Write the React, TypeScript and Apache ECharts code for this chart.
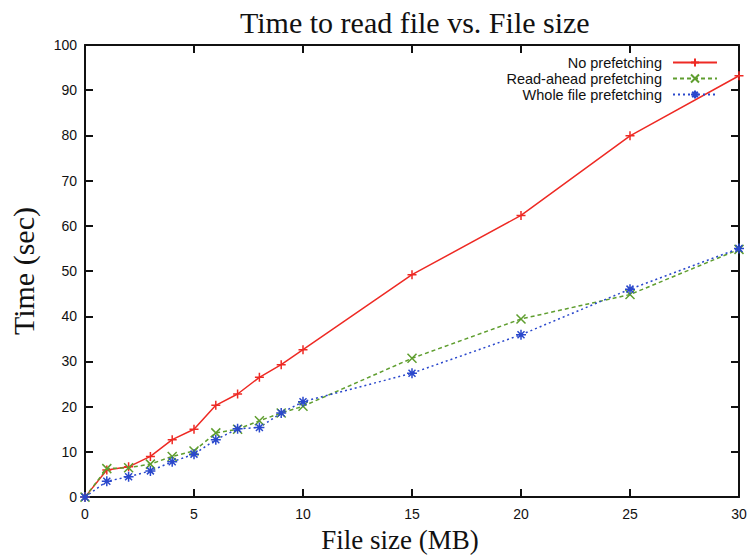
import React, { useEffect, useRef } from "react";
import * as echarts from "echarts";

const fileSizes = [0, 1, 2, 3, 4, 5, 6, 7, 8, 9, 10, 15, 20, 25, 30];
const noPrefetch = [0, 6.0, 6.7, 9.0, 12.7, 15.0, 20.3, 22.8, 26.5, 29.3, 32.6, 49.2, 62.3, 79.9, 93.2];
const readAhead = [0, 6.3, 6.5, 7.3, 9.0, 10.2, 14.2, 15.0, 16.9, 18.6, 20.1, 30.7, 39.4, 44.8, 54.8];
const wholeFile = [0, 3.5, 4.5, 5.8, 7.8, 9.5, 12.7, 15.1, 15.4, 18.6, 21.1, 27.4, 35.9, 46.0, 55.0];
const seriesNames = ["No prefetching", "Read-ahead prefetching", "Whole file prefetching"];
const titleText = "Time to read file vs. File size";
const xName = "File size (MB)";
const yName = "Time (sec)";

const pair = (ys: number[]) => fileSizes.map((x, i) => [x, ys[i]]);

const PLUS = "path://M5,0L5,10M0,5L10,5";
const CROSS = "path://M0,0L10,10M10,0L0,10";
const STAR = "path://M5,0L5,10M0,5L10,5M1.5,1.5L8.5,8.5M8.5,1.5L1.5,8.5";

export default function App() {
  const ref = useRef<HTMLDivElement>(null);
  useEffect(() => {
    if (!ref.current) return;
    const chart = echarts.init(ref.current, null, { renderer: "svg" });
    const sans = "Liberation Sans";
    const serif = "Liberation Serif";
    const axisLine = () => ({ show: true, onZero: false, lineStyle: { color: "#111", width: 2 } });
    const tickIn = () => ({ show: true, inside: true, length: 8, lineStyle: { color: "#111", width: 2 } });
    const mk = (name: string, ys: number[], color: string, symbol: string, type: any, size: number) => ({
      name,
      type: "line",
      data: pair(ys),
      symbol,
      symbolSize: size,
      showSymbol: true,
      lineStyle: { color, width: 1.5, type },
      itemStyle: { color, borderColor: color, borderWidth: 1.5 },
      z: 3,
    });
    chart.setOption({
      animation: false,
      backgroundColor: "#fff",
      graphic: [
        {
          type: "text",
          left: 240,
          top: 7,
          style: { text: titleText, font: `30px '${serif}'`, fill: "#111" },
        },
      ],
      legend: {
        orient: "vertical",
        right: 28,
        top: 50,
        align: "right",
        itemWidth: 44,
        itemHeight: 10,
        itemGap: 1,
        textStyle: { fontFamily: sans, fontSize: 14.5, color: "#111", padding: [0, 6, 0, 0] },
        data: seriesNames,
      },
      grid: { left: 84, right: 12, top: 45, bottom: 59 },
      xAxis: [
        {
          type: "value",
          min: 0,
          max: 30,
          interval: 5,
          position: "bottom",
          axisLine: axisLine(),
          axisTick: tickIn(),
          splitLine: { show: false },
          axisLabel: { fontFamily: sans, fontSize: 14, color: "#111", margin: 10 },
          name: xName,
          nameLocation: "middle",
          nameGap: 24,
          nameTextStyle: { fontFamily: serif, fontSize: 27, color: "#111", padding: [0, 24, 0, 0] },
        },
        {
          type: "value",
          min: 0,
          max: 30,
          interval: 5,
          position: "top",
          axisLine: axisLine(),
          axisTick: tickIn(),
          splitLine: { show: false },
          axisLabel: { show: false },
        },
      ],
      yAxis: [
        {
          type: "value",
          min: 0,
          max: 100,
          interval: 10,
          position: "left",
          axisLine: axisLine(),
          axisTick: tickIn(),
          splitLine: { show: false },
          axisLabel: { fontFamily: sans, fontSize: 14, color: "#111", margin: 8 },
          name: yName,
          nameLocation: "middle",
          nameGap: 47,
          nameTextStyle: { fontFamily: serif, fontSize: 30, color: "#111" },
        },
        {
          type: "value",
          min: 0,
          max: 100,
          interval: 10,
          position: "right",
          axisLine: axisLine(),
          axisTick: tickIn(),
          splitLine: { show: false },
          axisLabel: { show: false },
        },
      ],
      series: [
        mk(seriesNames[0], noPrefetch, "#ee2a24", PLUS, "solid", 9),
        mk(seriesNames[1], readAhead, "#5f9e2f", CROSS, [4, 3], 9),
        mk(seriesNames[2], wholeFile, "#2a48cc", STAR, [2, 3], 10),
      ],
    });
    return () => chart.dispose();
  }, []);
  return <div ref={ref} style={{ width: 751, height: 558, position: "absolute", left: 0, top: 0 }} />;
}
